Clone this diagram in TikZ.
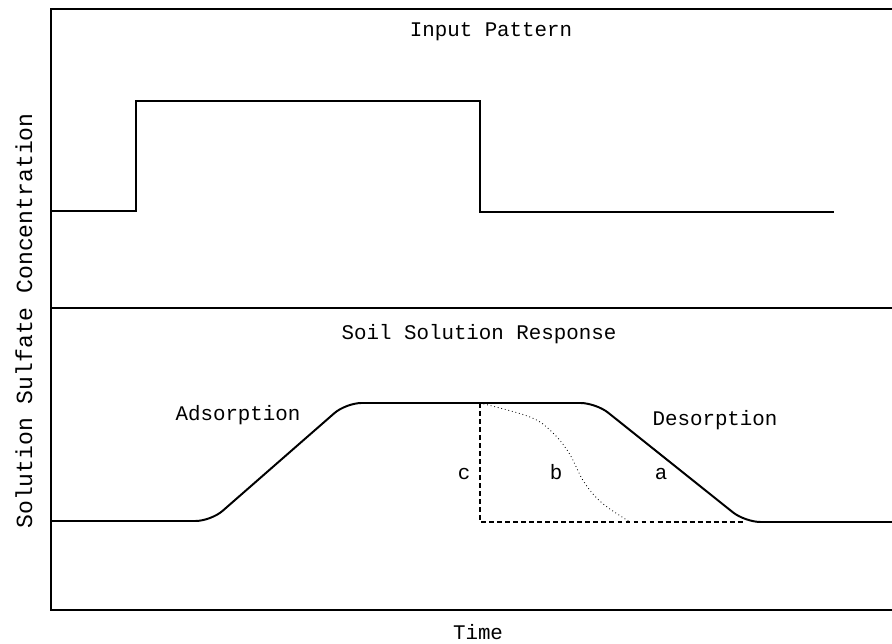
\documentclass[tikz,border=0pt]{standalone}
\usepackage{fontspec}
\setmonofont{Liberation Mono}
\usetikzlibrary{positioning}

\begin{document}
\begin{tikzpicture}[
    x=0.025cm, y=0.025cm,
    caption/.style={inner sep=0pt, anchor=base, font=\ttfamily\fontsize{14.8}{17}\selectfont},
    axiscaption/.style={inner sep=0pt, rotate=90, font=\ttfamily\fontsize{16.4}{19}\selectfont},
    frame/.style={line width=2pt},
    inputline/.style={line width=1.2pt},
    response/.style={line width=1.4pt, rounded corners=11pt},
    limit/.style={line width=0.8pt, dash pattern=on 3.5pt off 2.2pt},
    midcurve/.style={line width=0.6pt, dotted}
]
\useasboundingbox (0,0) rectangle (892,643);

% --- Panels ---
\draw [frame] (895,634) -- (51,634) -- (51,33) -- (895,33);
\draw [line width=1.8pt] (51,335) -- (895,335);

% --- Nodes ---
% Top panel
\node (input) at (491,606) [caption] {Input Pattern};
% Bottom panel
\node (soil) at (479,303) [caption] {Soil Solution Response};
\node (ads) at (238,222) [caption] {Adsorption};
\node (des) at (715,217) [caption] {Desorption};
\node (c) at (464,163) [caption] {c};
\node (b) at (556,163) [caption] {b};
\node (a) at (661,163) [caption] {a};
% Axes
\node (time) at (478,4) [caption] {Time};
\node (conc) at (24,322) [axiscaption] {Solution Sulfate Concentration};

% Corner points of the response
\coordinate (top) at (480,240);
\coordinate (corner) at (480,121);
\coordinate (foot) at (745,121);

% --- Curves ---
\draw [inputline] (51,432) -- (136,432) -- (136,542) -- (480,542) -- (480,431) -- (834,431);
\draw [response] (51,122) -- (211,122) -- (346,240) -- (596,240) -- (foot) -- (895,121);
\draw [limit] (top) -- (corner) -- (foot);
\draw [midcurve] plot [smooth, tension=0.6] coordinates {(top) (530,226) (552,211) (569,190) (584,161) (602,140) (630,121)};

\end{tikzpicture}
\end{document}
